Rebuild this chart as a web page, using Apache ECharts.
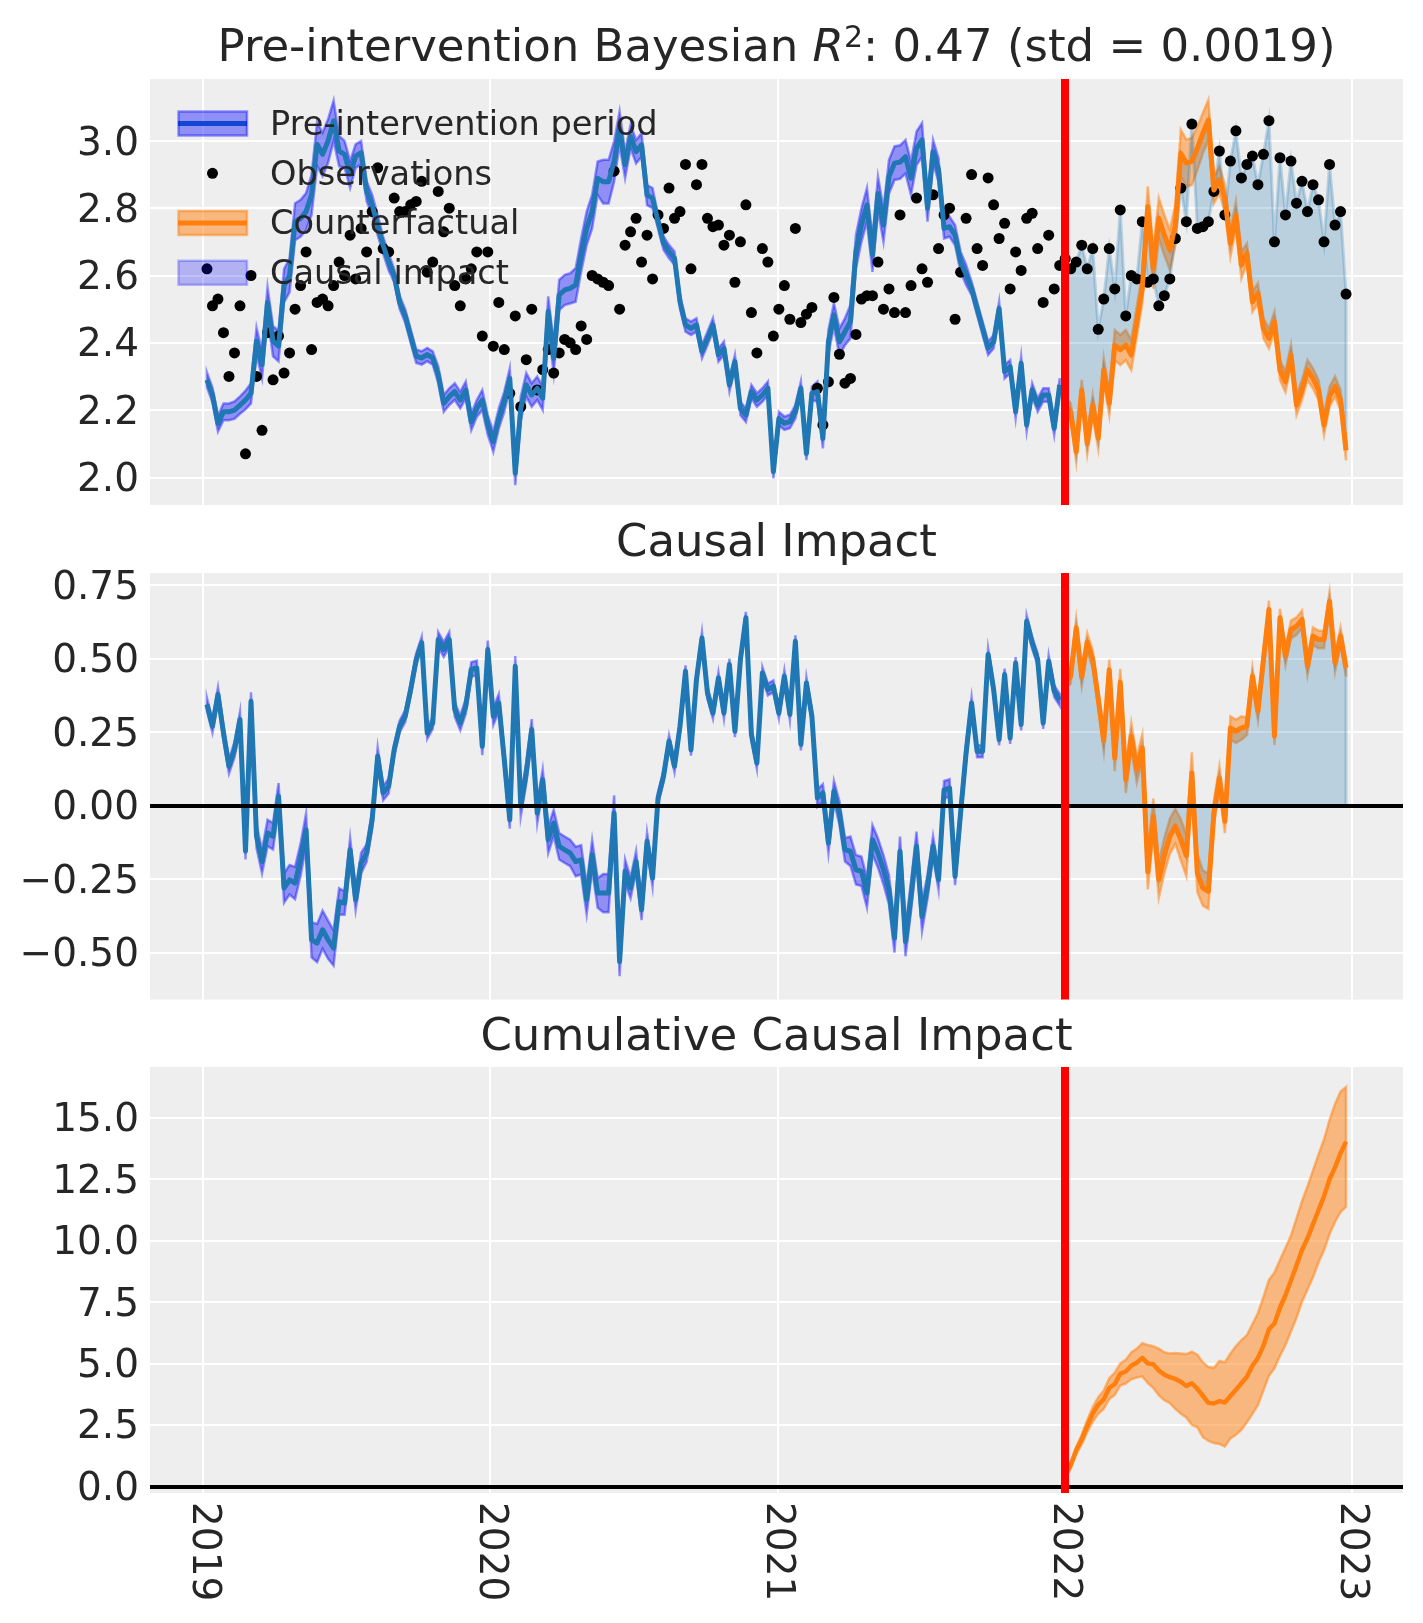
<!DOCTYPE html>
<html><head><meta charset="utf-8">
<script src="https://cdn.jsdelivr.net/npm/echarts/dist/echarts.min.js"></script>
<style>html,body{margin:0;padding:0;background:#fff}#c{width:1423px;height:1623px}</style>
</head><body><div id="c"></div>
<script>
// ---------------- DATA (weekly) ----------------
const startDate = '2019-01-06';          // first weekly observation
const interventionDate = '2022-01-01';
const yearTicks = ['2019', '2020', '2021', '2022', '2023'];

// Pre-intervention fitted mean (156 weeks)
const fitPre = [
2.29,2.245,2.16,2.195,2.195,2.20,2.215,2.23,2.25,2.405,
2.335,2.52,2.405,2.39,2.57,2.60,2.76,2.77,2.79,2.84,
2.99,2.96,3.00,3.06,2.97,2.96,2.90,2.955,2.965,2.85,
2.81,2.75,2.69,2.64,2.60,2.52,2.48,2.42,2.36,2.355,
2.365,2.355,2.305,2.22,2.24,2.255,2.23,2.26,2.165,2.205,
2.23,2.156,2.106,2.175,2.225,2.294,2.012,2.205,2.275,2.245,
2.265,2.235,2.493,2.354,2.542,2.557,2.562,2.572,2.661,2.74,
2.79,2.889,2.879,2.879,2.939,3.038,2.929,3.013,2.968,2.988,
2.839,2.83,2.76,2.696,2.671,2.651,2.522,2.453,2.443,2.453,
2.374,2.413,2.453,2.364,2.384,2.275,2.344,2.205,2.185,2.255,
2.23,2.245,2.265,2.017,2.175,2.161,2.166,2.195,2.265,2.071,
2.25,2.255,2.116,2.403,2.483,2.403,2.433,2.463,2.671,2.75,
2.81,2.661,2.844,2.75,2.894,2.934,2.937,2.953,2.889,2.978,
3.003,2.80,2.968,2.914,2.74,2.745,2.72,2.641,2.602,2.562,
2.502,2.443,2.384,2.403,2.502,2.314,2.329,2.195,2.339,2.156,
2.26,2.215,2.245,2.245,2.146,2.275];

// Post-intervention counterfactual mean (52 weeks)
const counterfactual = [
2.215,2.195,2.076,2.26,2.10,2.215,2.116,2.319,2.22,2.393,
2.379,2.393,2.364,2.463,2.562,2.805,2.621,2.77,2.72,2.676,
2.75,2.963,2.934,2.939,2.978,3.023,3.062,2.854,2.884,2.83,
2.696,2.78,2.631,2.666,2.522,2.547,2.443,2.413,2.463,2.319,
2.284,2.364,2.215,2.26,2.319,2.294,2.26,2.156,2.24,2.27,
2.23,2.081];

// Observations (208 weeks)
const observations = [
2.62,2.51,2.53,2.43,2.30,2.37,2.51,2.07,2.60,2.30,
2.14,2.43,2.29,2.42,2.31,2.37,2.50,2.57,2.67,2.38,
2.52,2.53,2.51,2.57,2.64,2.60,2.72,2.59,2.74,2.67,
2.79,2.92,2.68,2.67,2.83,2.79,2.79,2.81,2.82,2.88,
2.61,2.64,2.85,2.73,2.80,2.57,2.51,2.59,2.62,2.67,
2.42,2.67,2.39,2.52,2.38,2.25,2.48,2.21,2.35,2.50,
2.26,2.32,2.38,2.31,2.37,2.41,2.40,2.38,2.45,2.41,
2.60,2.59,2.58,2.57,2.91,2.50,2.69,2.73,2.77,2.64,
2.72,2.59,2.78,2.74,2.86,2.77,2.79,2.93,2.62,2.87,
2.93,2.77,2.745,2.75,2.69,2.72,2.58,2.70,2.81,2.49,
2.37,2.68,2.64,2.42,2.50,2.57,2.47,2.74,2.46,2.485,
2.505,2.265,2.156,2.284,2.535,2.366,2.28,2.294,2.425,2.53,
2.54,2.54,2.64,2.50,2.56,2.49,2.78,2.49,2.57,2.83,
2.62,2.58,2.84,2.68,2.78,2.80,2.47,2.61,2.77,2.90,
2.68,2.63,2.89,2.81,2.71,2.755,2.56,2.67,2.615,2.77,
2.785,2.68,2.52,2.72,2.56,2.63,
2.65,2.62,2.64,2.69,2.62,2.68,2.44,2.53,2.68,2.56,
2.795,2.48,2.60,2.59,2.76,2.58,2.59,2.51,2.54,2.59,
2.71,2.86,2.76,3.05,2.74,2.745,2.76,2.85,2.97,2.78,
2.94,3.03,2.89,2.93,2.955,2.87,2.96,3.06,2.70,2.95,
2.78,2.94,2.815,2.88,2.79,2.87,2.825,2.70,2.93,2.75,
2.79,2.545];

// Causal impact mean (208 weeks)
const impact = [
0.344,0.27,0.378,0.247,0.134,0.19,0.293,-0.155,0.355,-0.104,
-0.19,-0.093,-0.104,0.032,-0.28,-0.252,-0.263,-0.184,-0.082,-0.456,
-0.467,-0.422,-0.456,-0.484,-0.326,-0.331,-0.15,-0.32,-0.195,-0.161,
-0.048,0.168,0.043,0.066,0.19,0.27,0.304,0.395,0.497,0.554,
0.247,0.281,0.565,0.531,0.565,0.327,0.281,0.338,0.463,0.468,
0.202,0.531,0.304,0.349,0.157,-0.048,0.474,-0.002,0.111,0.259,
-0.025,0.088,-0.116,-0.059,-0.138,-0.15,-0.161,-0.19,-0.184,-0.32,
-0.167,-0.297,-0.297,-0.297,-0.025,-0.53,-0.223,-0.28,-0.19,-0.354,
-0.121,-0.246,0.026,0.10,0.219,0.134,0.27,0.457,0.19,0.429,
0.57,0.383,0.315,0.434,0.315,0.48,0.253,0.497,0.639,0.242,
0.145,0.451,0.395,0.406,0.315,0.44,0.31,0.559,0.208,0.417,
0.304,0.026,0.043,-0.127,0.049,-0.025,-0.15,-0.155,-0.218,-0.223,
-0.297,-0.116,-0.161,-0.218,-0.286,-0.45,-0.155,-0.462,-0.309,-0.138,
-0.377,-0.275,-0.138,-0.252,0.054,0.06,-0.24,-0.025,0.179,0.349,
0.185,0.185,0.514,0.395,0.225,0.446,0.23,0.485,0.276,0.627,
0.554,0.497,0.281,0.491,0.389,0.36,
0.42,0.44,0.605,0.437,0.556,0.497,0.363,0.22,0.462,0.162,
0.42,0.088,0.236,0.123,0.197,-0.225,-0.036,-0.252,-0.17,-0.104,
-0.07,-0.116,-0.17,0.111,-0.229,-0.28,-0.291,-0.025,0.094,-0.053,
0.264,0.253,0.264,0.27,0.44,0.321,0.497,0.667,0.236,0.639,
0.508,0.599,0.61,0.633,0.474,0.576,0.565,0.565,0.695,0.485,
0.576,0.469];

// Half width of the posterior HDI band (208 weeks)
const hdiHalfWidth = [
0.022,0.022,0.024,0.025,0.025,0.026,0.026,0.028,0.03,
0.04,0.04,0.045,0.045,0.045,
0.05,0.05,0.055,0.055,0.055,
0.06,0.065,0.065,0.065,0.06,
0.045,0.04,0.04,0.035,0.035,
0.03,0.03,0.03,0.025,0.025,
0.02,0.02,0.02,0.02,0.02,0.02,0.02,0.02,
0.025,0.025,0.025,0.025,0.025,0.025,0.025,0.025,
0.03,0.03,0.03,0.03,0.03,0.03,
0.035,0.035,0.035,0.035,0.035,0.035,
0.045,0.045,0.045,0.045,0.045,
0.05,0.05,0.05,0.05,0.05,
0.065,0.065,0.06,0.05,
0.04,0.035,0.035,0.035,0.03,0.03,
0.02,0.02,0.02,0.02,0.02,0.02,0.02,0.02,0.02,0.02,
0.02,0.02,0.02,0.02,0.02,0.02,0.02,0.02,0.02,0.02,
0.02,0.02,0.02,0.02,0.02,0.02,0.02,0.02,0.02,
0.03,0.03,0.035,0.035,0.04,0.04,
0.05,0.05,0.05,0.05,0.05,0.05,0.05,
0.05,0.05,0.05,0.05,0.05,0.05,0.05,
0.04,0.035,0.035,
0.03,0.03,0.03,0.03,0.03,
0.02,0.02,0.02,0.02,0.02,0.02,0.02,0.02,0.02,0.02,
0.02,0.02,0.02,0.02,0.02,0.02,0.02,
0.025,0.025,0.03,0.03,0.03,0.03,0.03,0.035,0.035,
0.045,0.045,0.045,0.045,0.045,0.045,
0.06,0.06,0.06,0.06,0.06,0.06,
0.07,0.07,0.07,0.065,0.06,0.06,
0.04,0.04,0.04,0.04,0.04,0.04,
0.03,0.03,0.03,0.03,0.03,0.03,0.03,0.03,0.03,0.03,
0.03,0.03,0.03,0.03,0.03,0.03,0.03,0.03,0.03];

// Cumulative causal impact (52 post weeks)
const cumulativeMean = [
0.42,0.86,1.465,1.902,2.458,2.955,3.318,3.538,4.0,4.162,
4.582,4.67,4.906,5.029,5.226,5.001,4.965,4.713,4.543,4.439,
4.369,4.253,4.083,4.194,3.965,3.685,3.394,3.369,3.463,3.41,
3.674,3.927,4.191,4.461,4.901,5.222,5.719,6.386,6.622,7.261,
7.769,8.368,8.978,9.611,10.085,10.661,11.226,11.791,12.486,12.971,
13.547,14.016];
const cumulativeLow = [
0.35,0.75,1.30,1.70,2.20,2.62,2.95,3.15,3.55,3.72,
4.10,4.18,4.35,4.42,4.47,4.20,4.00,3.70,3.50,3.38,
3.15,2.95,2.80,2.50,2.40,2.00,1.85,1.76,1.72,1.62,
1.95,2.10,2.30,2.60,2.95,3.30,3.90,4.50,4.80,5.30,
5.75,6.30,6.85,7.50,8.00,8.50,9.10,9.60,10.25,10.75,
11.15,11.37];
const cumulativeHigh = [
0.50,0.95,1.60,2.10,2.70,3.22,3.62,3.90,4.40,4.62,
5.00,5.15,5.45,5.60,5.82,5.75,5.70,5.60,5.45,5.40,
5.42,5.40,5.38,5.48,5.35,5.05,4.85,4.82,5.10,5.05,
5.40,5.70,5.95,6.15,6.60,7.05,7.70,8.40,8.70,9.20,
9.70,10.20,10.90,11.60,12.20,12.85,13.50,14.10,14.90,15.55,
16.05,16.24];

// ---------------- helpers ----------------
const DAY = 86400000;
function fracYear(ms) {
  const y = new Date(ms).getUTCFullYear();
  const s = Date.UTC(y, 0, 1), e = Date.UTC(y + 1, 0, 1);
  return y + (ms - s) / (e - s);
}
const t0 = Date.parse(startDate + 'T00:00:00Z');
const nAll = observations.length;
const nPre = fitPre.length;
const xs = observations.map((_, i) => fracYear(t0 + i * 7 * DAY));
const xPre = xs.slice(0, nPre);
const xPost = xs.slice(nPre);
const xInt = fracYear(Date.parse(interventionDate + 'T00:00:00Z'));
const span = xs[nAll - 1] - xs[0];
const xMin = xs[0] - 0.05 * span, xMax = xs[nAll - 1] + 0.05 * span;

const hwPre = hdiHalfWidth.slice(0, nPre), hwPost = hdiHalfWidth.slice(nPre);
const obsPost = observations.slice(nPre);
const impPre = impact.slice(0, nPre), impPost = impact.slice(nPre);

const FONT = 'DejaVu Sans';
const TXT = '#262626';
const C0 = '#1f77b4', C1 = '#ff7f0e';
const BLUE_BAND = 'rgba(0,0,255,0.4)';
const ORANGE_BAND = 'rgba(255,127,14,0.5)';
const IMPACT_FILL = 'rgba(31,119,180,0.25)';

function bandSeries(g, xArr, lo, hi, fill, lw, z) {
  return {
    type: 'custom', xAxisIndex: g, yAxisIndex: g, z: z, silent: true, animation: false,
    data: [[xArr[0], lo[0]]], encode: { x: 0, y: 1 },
    renderItem: function (params, api) {
      const pts = [];
      for (let k = 0; k < xArr.length; k++) pts.push(api.coord([xArr[k], hi[k]]));
      for (let k = xArr.length - 1; k >= 0; k--) pts.push(api.coord([xArr[k], lo[k]]));
      return { type: 'polygon', shape: { points: pts }, style: { fill: fill, stroke: fill, lineWidth: lw } };
    }
  };
}
function lineSeries(g, xArr, yArr, color, width, z) {
  return {
    type: 'line', xAxisIndex: g, yAxisIndex: g, z: z, silent: true, animation: false,
    data: xArr.map((x, k) => [x, yArr[k]]), symbol: 'none',
    lineStyle: { color: color, width: width, join: 'round', cap: 'butt' }
  };
}
function refLines(g, withZero) {
  const data = [];
  if (withZero) data.push({ yAxis: 0, lineStyle: { color: '#000', width: 4, type: 'solid' } });
  data.push({ xAxis: xInt, lineStyle: { color: '#ff0000', width: 8, type: 'solid' } });
  return {
    type: 'line', xAxisIndex: g, yAxisIndex: g, z: 20, silent: true, animation: false,
    data: [], symbol: 'none',
    markLine: { silent: true, animation: false, symbol: ['none', 'none'], label: { show: false }, data: data }
  };
}
function tickFmt(step, dec) {
  return function (v) {
    const r = Math.round(v / step);
    if (Math.abs(v / step - r) > 1e-6) return '';
    return (r * step).toFixed(dec).replace('-', '\u2212');
  };
}
function yAxisCfg(g, min, max, step, dec) {
  return {
    type: 'value', gridIndex: g, min: min, max: max, minInterval: step, maxInterval: step,
    axisLine: { show: false }, axisTick: { show: false },
    splitLine: { show: true, showMinLine: false, showMaxLine: false, lineStyle: { color: '#ffffff', width: 2 } },
    axisLabel: { show: true, margin: 11, fontSize: 39, fontFamily: FONT, color: TXT,
      verticalAlign: 'top', lineHeight: 7,
      showMinLabel: false, showMaxLabel: false, formatter: tickFmt(step, dec) }
  };
}
function xAxisCfg(g, showLabels) {
  return {
    type: 'value', gridIndex: g, min: xMin, max: xMax, minInterval: 1, maxInterval: 1,
    axisLine: { show: false }, axisTick: { show: false },
    splitLine: { show: true, showMinLine: false, showMaxLine: false, lineStyle: { color: '#ffffff', width: 2 } },
    axisLabel: { show: showLabels, rotate: -90, margin: 9, fontSize: 39, fontFamily: FONT, color: TXT,
      padding: [0, 0, 14, 0], showMinLabel: false, showMaxLabel: false,
      formatter: function (v) {
        const r = Math.round(v);
        if (Math.abs(v - r) > 1e-6) return '';
        const s = String(r);
        return yearTicks.indexOf(s) >= 0 ? s : '';
      } }
  };
}

const preLo = fitPre.map((v, k) => v - hwPre[k]), preHi = fitPre.map((v, k) => v + hwPre[k]);
const cfLo = counterfactual.map((v, k) => v - hwPost[k]), cfHi = counterfactual.map((v, k) => v + hwPost[k]);
const ipLo = impPre.map((v, k) => v - hwPre[k]), ipHi = impPre.map((v, k) => v + hwPre[k]);
const iqLo = impPost.map((v, k) => v - hwPost[k]), iqHi = impPost.map((v, k) => v + hwPost[k]);
const zerosPost = impPost.map(() => 0);

const series = [
  // panel 1
  bandSeries(0, xPre, preLo, preHi, BLUE_BAND, 2.5, 1),
  bandSeries(0, xPost, cfLo, cfHi, ORANGE_BAND, 2.5, 1),
  bandSeries(0, xPost, counterfactual, obsPost, IMPACT_FILL, 3, 1),
  { type: 'scatter', xAxisIndex: 0, yAxisIndex: 0, z: 3, silent: true, animation: false,
    data: xs.map((x, k) => [x, observations[k]]), symbol: 'circle', symbolSize: 11,
    itemStyle: { color: '#000000', opacity: 1 } },
  lineSeries(0, xPre, fitPre, C0, 5, 4),
  lineSeries(0, xPost, counterfactual, C1, 5, 4),
  refLines(0, false),
  // panel 2
  bandSeries(1, xPre, ipLo, ipHi, BLUE_BAND, 2.5, 1),
  bandSeries(1, xPost, iqLo, iqHi, ORANGE_BAND, 2.5, 1),
  bandSeries(1, xPost, zerosPost, impPost, IMPACT_FILL, 3, 1),
  lineSeries(1, xPre, impPre, C0, 5, 4),
  lineSeries(1, xPost, impPost, C1, 5, 4),
  refLines(1, true),
  // panel 3
  bandSeries(2, xPost, cumulativeLow, cumulativeHigh, ORANGE_BAND, 2.5, 1),
  lineSeries(2, xPost, cumulativeMean, C1, 4.5, 4),
  refLines(2, true)
];

// legend + titles (text elements)
const legendRows = [
  { label: 'Pre-intervention period', y: 123.5, kind: 'band', line: C0, fill: BLUE_BAND },
  { label: 'Observations', y: 173.3, kind: 'dot' },
  { label: 'Counterfactual', y: 223, kind: 'band', line: C1, fill: ORANGE_BAND },
  { label: 'Causal impact', y: 272.8, kind: 'patch', fill: 'rgba(0,0,255,0.25)' }
];
const graphics = [];
legendRows.forEach(r => {
  if (r.kind === 'band') {
    graphics.push({ type: 'line', z: 100, silent: true, shape: { x1: 178, y1: r.y, x2: 247, y2: r.y }, style: { stroke: r.line, lineWidth: 5 } });
  }
  if (r.kind === 'band' || r.kind === 'patch') {
    graphics.push({ type: 'rect', z: 101, silent: true, shape: { x: 178.5, y: r.y - 12, width: 68.5, height: 24 }, style: { fill: r.fill, stroke: r.fill, lineWidth: 2.5 } });
  }
  if (r.kind === 'dot') {
    graphics.push({ type: 'circle', z: 101, silent: true, shape: { cx: 212.5, cy: r.y, r: 5.5 }, style: { fill: '#000' } });
  }
  graphics.push({ type: 'text', z: 102, silent: true, x: 270, y: r.y + 2.5,
    style: { text: r.label, font: '33.6px "DejaVu Sans"', fontSize: 33.6, fontFamily: FONT, fill: TXT,
      align: 'left', verticalAlign: 'middle', textAlign: 'left', textVerticalAlign: 'middle' } });
});
const titleX = 776.5;
graphics.push({ type: 'text', z: 102, silent: true, x: titleX, y: 49,
  style: { text: '{a|Pre-intervention Bayesian }{i|R}{s|2}{a|: 0.47 (std = 0.0019)}',
    align: 'center', verticalAlign: 'middle', textAlign: 'center', textVerticalAlign: 'middle',
    rich: {
      a: { fontSize: 45, fontFamily: FONT, fill: TXT, color: TXT, lineHeight: 50 },
      i: { fontSize: 45, fontFamily: FONT, fontStyle: 'italic', fill: TXT, color: TXT, lineHeight: 50 },
      s: { fontSize: 30, fontFamily: FONT, fill: TXT, color: TXT, lineHeight: 27, verticalAlign: 'top' }
    } } });
[['Causal Impact', 544], ['Cumulative Causal Impact', 1038]].forEach(t => {
  graphics.push({ type: 'text', z: 102, silent: true, x: titleX, y: t[1],
    style: { text: t[0], font: '45px "DejaVu Sans"', fontSize: 45, fontFamily: FONT, fill: TXT,
      align: 'center', verticalAlign: 'middle', textAlign: 'center', textVerticalAlign: 'middle' } });
});

const option = {
  animation: false,
  backgroundColor: '#ffffff',
  grid: [
    { left: 150, top: 79, width: 1253, height: 426, show: true, backgroundColor: '#eeeeee', borderWidth: 0 },
    { left: 150, top: 573, width: 1253, height: 426.5, show: true, backgroundColor: '#eeeeee', borderWidth: 0 },
    { left: 150, top: 1067, width: 1253, height: 426, show: true, backgroundColor: '#eeeeee', borderWidth: 0 }
  ],
  xAxis: [xAxisCfg(0, false), xAxisCfg(1, false), xAxisCfg(2, true)],
  yAxis: [
    yAxisCfg(0, 1.918, 3.184, 0.2, 1),
    yAxisCfg(1, -0.659, 0.791, 0.25, 2),
    yAxisCfg(2, -0.27, 17.05, 2.5, 1)
  ],
  series: series,
  graphic: graphics
};
const chart = echarts.init(document.getElementById('c'), null, { renderer: 'canvas', width: 1423, height: 1623 });
chart.setOption(option);
</script>
</body></html>
